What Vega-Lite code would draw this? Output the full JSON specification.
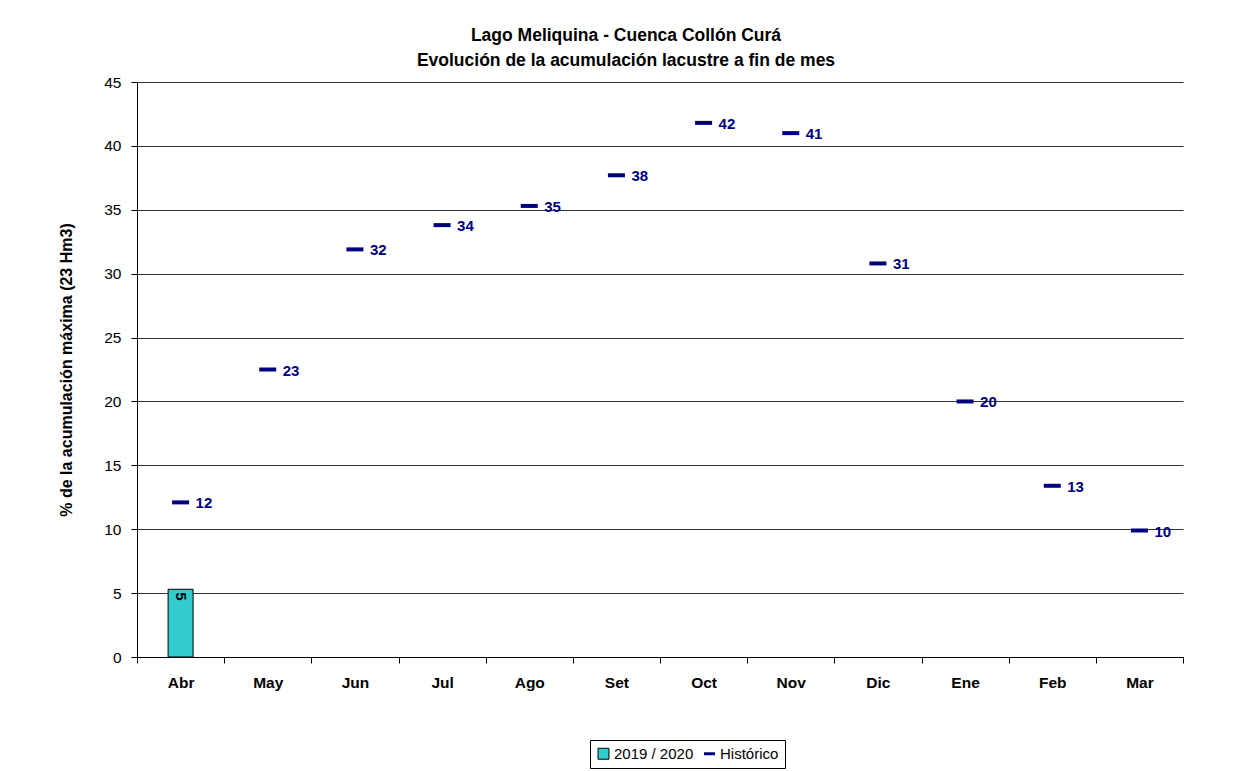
{
  "$schema": "https://vega.github.io/schema/vega-lite/v6.json",
  "width": 1046,
  "height": 575,
  "autosize": {"type": "none"},
  "padding": {"left": 137, "top": 82, "right": 58, "bottom": 114},
  "background": "white",
  "config": {
    "font": "Liberation Sans",
    "view": {"stroke": null},
    "axis": {"labelFont": "Liberation Sans", "titleFont": "Liberation Sans", "domainColor": "black", "tickColor": "black", "labelColor": "black", "titleColor": "black"}
  },
  "title": {
    "text": ["Lago Meliquina - Cuenca Collón Curá", "Evolución de la acumulación lacustre a fin de mes"],
    "fontSize": 17.5,
    "fontWeight": "bold",
    "font": "Liberation Sans",
    "color": "black",
    "anchor": "middle",
    "dx": -34,
    "offset": 6,
    "lineHeight": 25
  },
  "data": {
    "values": [
      {"mes": "Abr", "hist": 12.1, "actual": 5.3},
      {"mes": "May", "hist": 22.5, "actual": null},
      {"mes": "Jun", "hist": 31.9, "actual": null},
      {"mes": "Jul", "hist": 33.8, "actual": null},
      {"mes": "Ago", "hist": 35.3, "actual": null},
      {"mes": "Set", "hist": 37.7, "actual": null},
      {"mes": "Oct", "hist": 41.8, "actual": null},
      {"mes": "Nov", "hist": 41.0, "actual": null},
      {"mes": "Dic", "hist": 30.8, "actual": null},
      {"mes": "Ene", "hist": 20.0, "actual": null},
      {"mes": "Feb", "hist": 13.4, "actual": null},
      {"mes": "Mar", "hist": 9.9, "actual": null}
    ]
  },
  "encoding": {
    "x": {
      "field": "mes",
      "type": "nominal",
      "sort": null,
      "scale": {"paddingInner": 0, "paddingOuter": 0},
      "axis": {"title": null, "labelAngle": 0, "labelFontSize": 15.5, "labelFontWeight": "bold", "tickBand": "extent", "tickSize": 6, "labelPadding": 12, "domainWidth": 1}
    }
  },
  "layer": [
    {
      "transform": [{"filter": "datum.actual != null"}, {"calculate": "'2019 / 2020'", "as": "serie"}],
      "mark": {"type": "bar", "size": 25, "stroke": "black", "strokeWidth": 1, "opacity": 1},
      "encoding": {
        "y": {
          "field": "actual",
          "type": "quantitative",
          "scale": {"domain": [0, 45], "nice": false},
          "axis": {"title": "% de la acumulación máxima (23 Hm3)", "titleFontSize": 16, "titleFontWeight": "bold", "titlePadding": 29, "labelFontSize": 15.5, "labelFontWeight": "normal", "values": [0, 5, 10, 15, 20, 25, 30, 35, 40, 45], "grid": true, "gridColor": "black", "gridWidth": 1, "gridOpacity": 0.8, "tickSize": 6, "labelPadding": 10}
        },
        "color": {
          "field": "serie",
          "type": "nominal",
          "scale": {"domain": ["2019 / 2020", "Histórico"], "range": ["#33CCCC", "#000080"]},
          "legend": {
            "title": null,
            "orient": "none",
            "legendX": 453,
            "legendY": 658,
            "direction": "horizontal",
            "strokeColor": "black",
            "fillColor": "white",
            "padding": 6,
            "labelFontSize": 15,
            "labelColor": "black",
            "labelFont": "Liberation Sans",
            "symbolSize": 120,
            "symbolOpacity": 1,
            "columnPadding": 4,
            "labelOffset": 3,
            "encoding": {
              "symbols": {
                "shape": {"value": {"expr": "datum.value == 'Histórico' ? 'stroke' : 'square'"}},
                "stroke": {"value": {"expr": "datum.value == 'Histórico' ? '#000080' : 'black'"}},
                "strokeWidth": {"value": {"expr": "datum.value == 'Histórico' ? 3 : 1"}}
              }
            }
          }
        }
      }
    },
    {
      "transform": [{"filter": "datum.actual != null"}],
      "mark": {"type": "text", "angle": 90, "align": "left", "baseline": "middle", "dx": 3, "fontSize": 15, "fontWeight": "bold", "color": "black"},
      "encoding": {
        "y": {"field": "actual", "type": "quantitative"},
        "text": {"field": "actual", "type": "quantitative", "format": ".0f"}
      }
    },
    {
      "transform": [{"calculate": "'Histórico'", "as": "serie"}],
      "mark": {"type": "tick", "size": 17, "thickness": 4, "color": "#000080", "opacity": 1},
      "encoding": {
        "y": {"field": "hist", "type": "quantitative"}
      }
    },
    {
      "mark": {"type": "text", "align": "left", "baseline": "middle", "dx": 15, "dy": 1, "fontSize": 15, "fontWeight": "bold", "color": "#000080"},
      "encoding": {
        "y": {"field": "hist", "type": "quantitative"},
        "text": {"field": "hist", "type": "quantitative", "format": ".0f"}
      }
    }
  ]
}
